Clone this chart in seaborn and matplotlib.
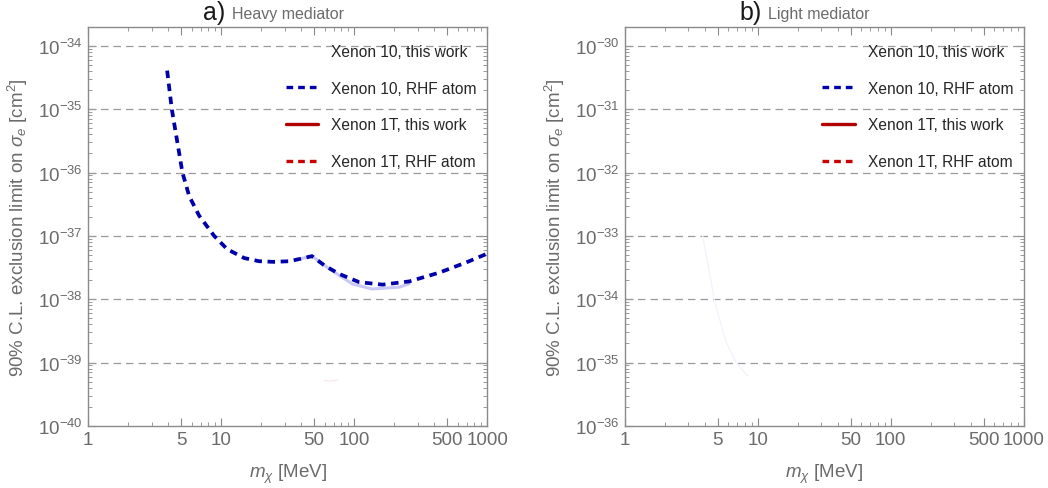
import numpy as np
import matplotlib
matplotlib.use("Agg")
import matplotlib.pyplot as plt
from matplotlib.lines import Line2D
from matplotlib.ticker import LogLocator, FixedLocator, FixedFormatter, NullFormatter
import seaborn as sns

# Data
# a) heavy mediator, Xenon 10 RHF atom
heavy_rhf_m = [3.93, 4.26, 5.12, 5.75, 6.83, 8.86, 11.1, 14.9, 19.3, 25, 32.5, 40,
               48.1, 60, 77, 109, 163, 259, 436, 692, 1000]
heavy_rhf_sigma = [4.07e-35, 1.0e-35, 1.0e-36, 4.27e-37, 2.09e-37, 1.0e-37, 6.17e-38,
                   4.47e-38, 3.98e-38, 3.89e-38, 3.98e-38, 4.37e-38, 4.79e-38, 3.39e-38,
                   2.51e-38, 1.86e-38, 1.70e-38, 1.91e-38, 2.63e-38, 3.80e-38, 5.25e-38]
# a) heavy mediator, Xenon 10 this work (very faint)
heavy_tw_m = [40, 48.1, 65, 97, 136, 218, 259]
heavy_tw_sigma = [4.37e-38, 4.79e-38, 3.02e-38, 1.74e-38, 1.45e-38, 1.55e-38, 1.75e-38]
# a) heavy mediator, Xenon 1T this work (barely visible piece)
heavy_1t_m = [60, 67, 75]
heavy_1t_sigma = [5.2e-40, 5.1e-40, 5.3e-40]
# b) light mediator, Xenon 10 this work (very faint)
light_tw_m = [3.86, 4.75, 5.8, 6.9, 8.4]
light_tw_sigma = [1.0e-33, 9.1e-35, 2.09e-35, 1.0e-35, 6.17e-36]

legend_labels = ["Xenon 10, this work", "Xenon 10, RHF atom",
                 "Xenon 1T, this work", "Xenon 1T, RHF atom"]
x_tick_values = [1, 5, 10, 50, 100, 500, 1000]
x_tick_labels = ["1", "5", "10", "50", "100", "500", "1000"]

# Style
sns.set_style("white")
plt.rcParams["font.family"] = ["Liberation Sans", "DejaVu Sans"]
plt.rcParams["mathtext.fontset"] = "custom"
plt.rcParams["mathtext.rm"] = "Liberation Sans"
plt.rcParams["mathtext.it"] = "Liberation Sans:italic"

gray = "#6b6b6b"
blue = "#0000aa"
dred = "#b00000"
red = "#c80000"
dash = (0, (2.0, 1.5))

fig = plt.figure(figsize=(10.48, 4.89), dpi=100)
ax_a = fig.add_axes([0.084, 0.127, 0.381, 0.816])
ax_b = fig.add_axes([0.596, 0.127, 0.381, 0.816])


def style_axes(ax, ylo, yhi):
    ax.set_xscale("log")
    ax.set_yscale("log")
    ax.set_xlim(1, 1000)
    ax.set_ylim(10.0 ** ylo, 10.0 ** (yhi + 0.3))
    ax.xaxis.set_major_locator(FixedLocator(x_tick_values))
    ax.xaxis.set_major_formatter(FixedFormatter(x_tick_labels))
    ax.xaxis.set_minor_locator(LogLocator(base=10, subs=np.arange(2, 10), numticks=50))
    ax.xaxis.set_minor_formatter(NullFormatter())
    ax.yaxis.set_major_locator(FixedLocator(10.0 ** np.arange(ylo, yhi + 1)))
    ax.yaxis.set_minor_locator(LogLocator(base=10, subs=np.arange(2, 10), numticks=50))
    ax.yaxis.set_minor_formatter(NullFormatter())
    ax.tick_params(which="both", direction="in", bottom=True, left=True, top=True,
                   right=True, color="#8a8a8a", labelcolor=gray, labelsize=13.5)
    ax.tick_params(which="major", length=6, width=0.8)
    ax.tick_params(which="minor", length=3, width=0.6)
    for s in ax.spines.values():
        s.set_color("#8a8a8a")
        s.set_linewidth(1.0)
    for k in range(ylo + 1, yhi + 1):
        ax.axhline(10.0 ** k, color="#9a9a9a", lw=0.9, ls=(0, (6, 4)), zorder=1)
    ax.set_xlabel(r"$m_\chi$ [MeV]", color=gray, fontsize=13.5, labelpad=10)
    ax.set_ylabel(r"90% C.L. exclusion limit on $\sigma_e$ [cm$^2$]", color=gray,
                  fontsize=13.5, labelpad=6)
    handles = [
        Line2D([], [], color="white", lw=2.4),
        Line2D([], [], color=blue, lw=2.4, ls=dash),
        Line2D([], [], color=dred, lw=2.4),
        Line2D([], [], color=red, lw=2.4, ls=dash),
    ]
    ax.legend(handles, legend_labels, loc="upper right", bbox_to_anchor=(1.0, 0.985),
              frameon=False, fontsize=11.2, handlelength=2.1, handletextpad=0.8,
              labelspacing=1.4, borderaxespad=0.3)


style_axes(ax_a, -40, -34)
style_axes(ax_b, -36, -30)

# a) Heavy mediator
sns.lineplot(x=heavy_tw_m, y=heavy_tw_sigma, ax=ax_a, color="#c8c8f8", lw=2.2,
             estimator=None, sort=False, zorder=3)
sns.lineplot(x=heavy_1t_m, y=heavy_1t_sigma, ax=ax_a, color="#fbe8ec", lw=1.0,
             estimator=None, sort=False, zorder=3)
sns.lineplot(x=heavy_rhf_m, y=heavy_rhf_sigma, ax=ax_a, color=blue, lw=2.7,
             linestyle=dash, estimator=None, sort=False, zorder=4)

# b) Light mediator
sns.lineplot(x=light_tw_m, y=light_tw_sigma, ax=ax_b, color="#f3f3fd", lw=1.0,
             estimator=None, sort=False, zorder=3)

# Panel titles
for ax, letter, sub in [(ax_a, "a)", "Heavy mediator"), (ax_b, "b)", "Light mediator")]:
    ax.text(0.343, 1.008, letter, transform=ax.transAxes, ha="right", va="bottom",
            fontsize=18, color="#1a1a1a")
    ax.text(0.36, 1.015, sub, transform=ax.transAxes, ha="left", va="bottom",
            fontsize=11.5, color=gray)

fig.savefig("out.png", dpi=100)
